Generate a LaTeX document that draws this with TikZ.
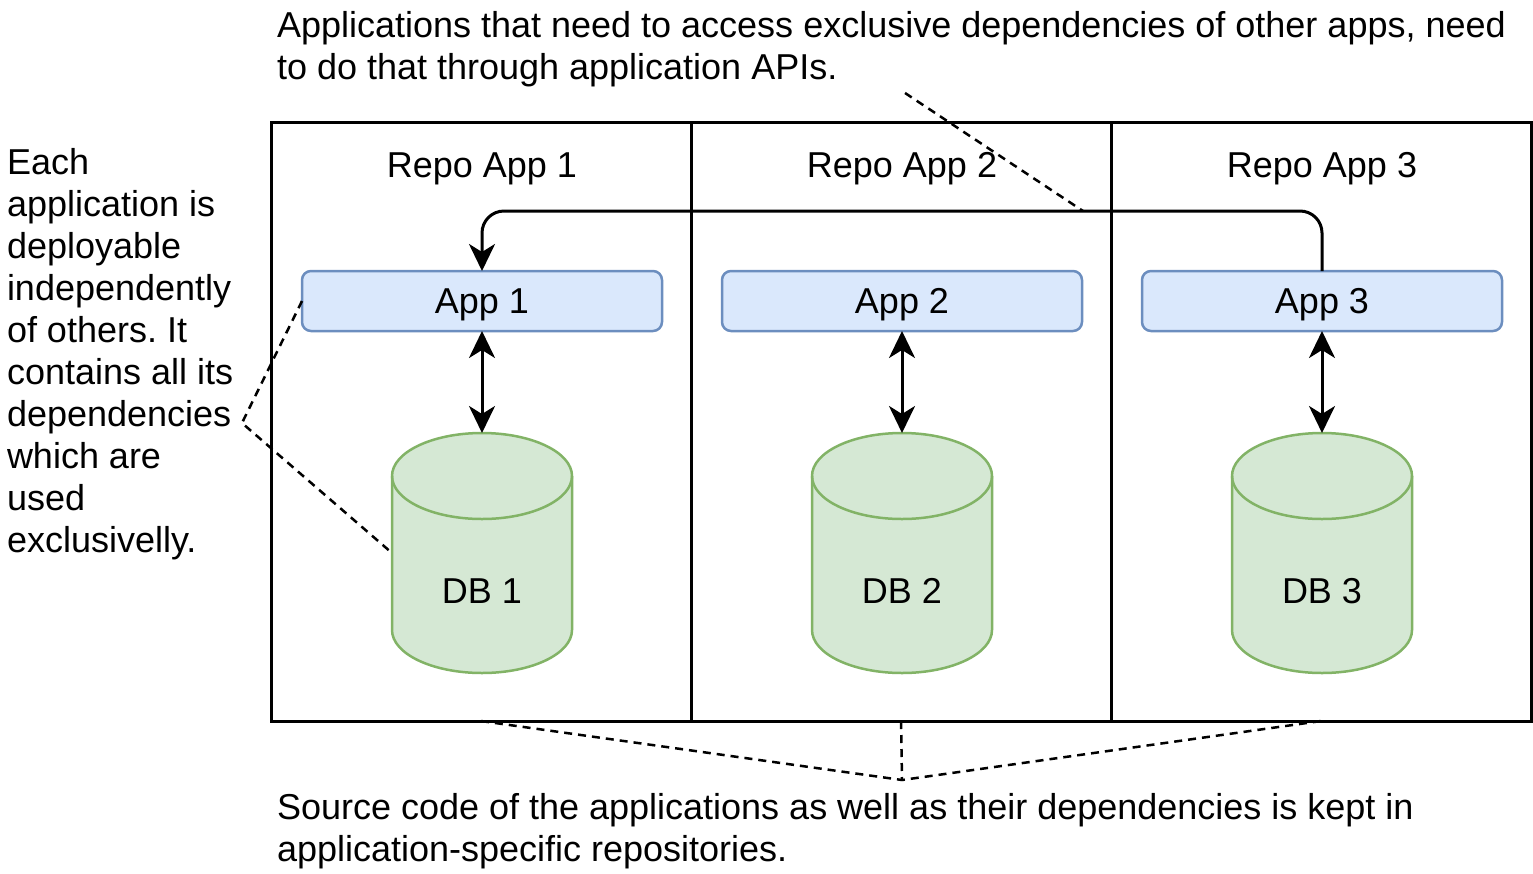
\documentclass[tikz,border=0pt]{standalone}
\usepackage{fontspec}
\setmainfont{Liberation Sans}
\usetikzlibrary{arrows.meta}
\definecolor{appfill}{HTML}{DAE8FC}
\definecolor{appdraw}{HTML}{6C8EBF}
\definecolor{dbfill}{HTML}{D5E8D4}
\definecolor{dbdraw}{HTML}{82B366}
\frenchspacing
\begin{document}
\begin{tikzpicture}[x=1pt,y=-1pt,
  every node/.style={outer sep=0pt},
  font=\fontsize{36}{42}\selectfont,
  lbl/.style={text depth=0pt},
  repo/.style={draw=black,line width=3pt,minimum width=420pt,minimum height=599pt,inner sep=0pt,anchor=north west},
  app/.style={draw=appdraw,fill=appfill,line width=2.5pt,rounded corners=9pt,minimum width=360pt,minimum height=60pt,inner sep=0pt,text depth=0pt},
  dbbox/.style={minimum width=180pt,minimum height=240pt,inner sep=0pt},
  cyl/.style={draw=dbdraw,fill=dbfill,line width=2.5pt},
  tip/.tip={Stealth[length=27pt,width=26pt,inset=8pt]},
  conn/.style={line width=3pt,-tip},
  both/.style={line width=3pt,tip-tip},
  note/.style={line width=2.5pt,dash pattern=on 8pt off 6pt},
  txt/.style={align=left,inner sep=0pt,anchor=base west}]
\useasboundingbox (0,0) rectangle (1533,873);

% repositories
\node[repo] (r1) at (271,122) {};
\node[repo] (r2) at (691,122) {};
\node[repo] (r3) at (1111,122) {};

\foreach \i/\x in {1/482,2/902,3/1322}{
  \node[lbl] (t\i) at (\x,165) {Repo App \i};
  \node[app] (app\i) at (\x,301) {App \i};
  \node[dbbox] (db\i) at (\x,553) {};
  \path[cyl] ([yshift=-43pt]db\i.north west) -- ([yshift=43pt]db\i.south west)
     arc[start angle=180,end angle=360,x radius=90pt,y radius=43pt]
     -- ([yshift=-43pt]db\i.north east)
     arc[start angle=0,end angle=180,x radius=90pt,y radius=43pt] -- cycle;
  \draw[cyl,fill=none] ([yshift=-43pt]db\i.north west)
     arc[start angle=180,end angle=360,x radius=90pt,y radius=43pt];
  \node[lbl] (dbl\i) at (\x,591) {DB \i};
  \draw[both] (app\i.south) -- (db\i.north);
}

% cross-app access
\draw[conn,rounded corners=22pt] (app3.north) -- ++(0,-60) -| (app1.north);

% annotations
\node[txt] (top) at (277,79) {Applications that need to access exclusive dependencies of other apps, need\\to do that through application APIs.};
\node[txt] (left) at (7,552) {Each\\application is\\deployable\\independently\\of others. It\\contains all its\\dependencies\\which are\\used\\exclusivelly.};
\node[txt] (bottom) at (277,861) {Source code of the applications as well as their dependencies is kept in\\application-specific repositories.};

\coordinate (ctop) at (905,93);
\coordinate (cpath) at (1083,211);
\coordinate (cleft) at (242,423);
\coordinate (cbot) at (902,780);

\draw[note] (ctop) -- (cpath);
\draw[note] (app1.west) -- (cleft) -- (db1.west);
\draw[note] (r1.south) -- (cbot) -- (r3.south);
\draw[note] (r2.south) -- (cbot);
\end{tikzpicture}
\end{document}
